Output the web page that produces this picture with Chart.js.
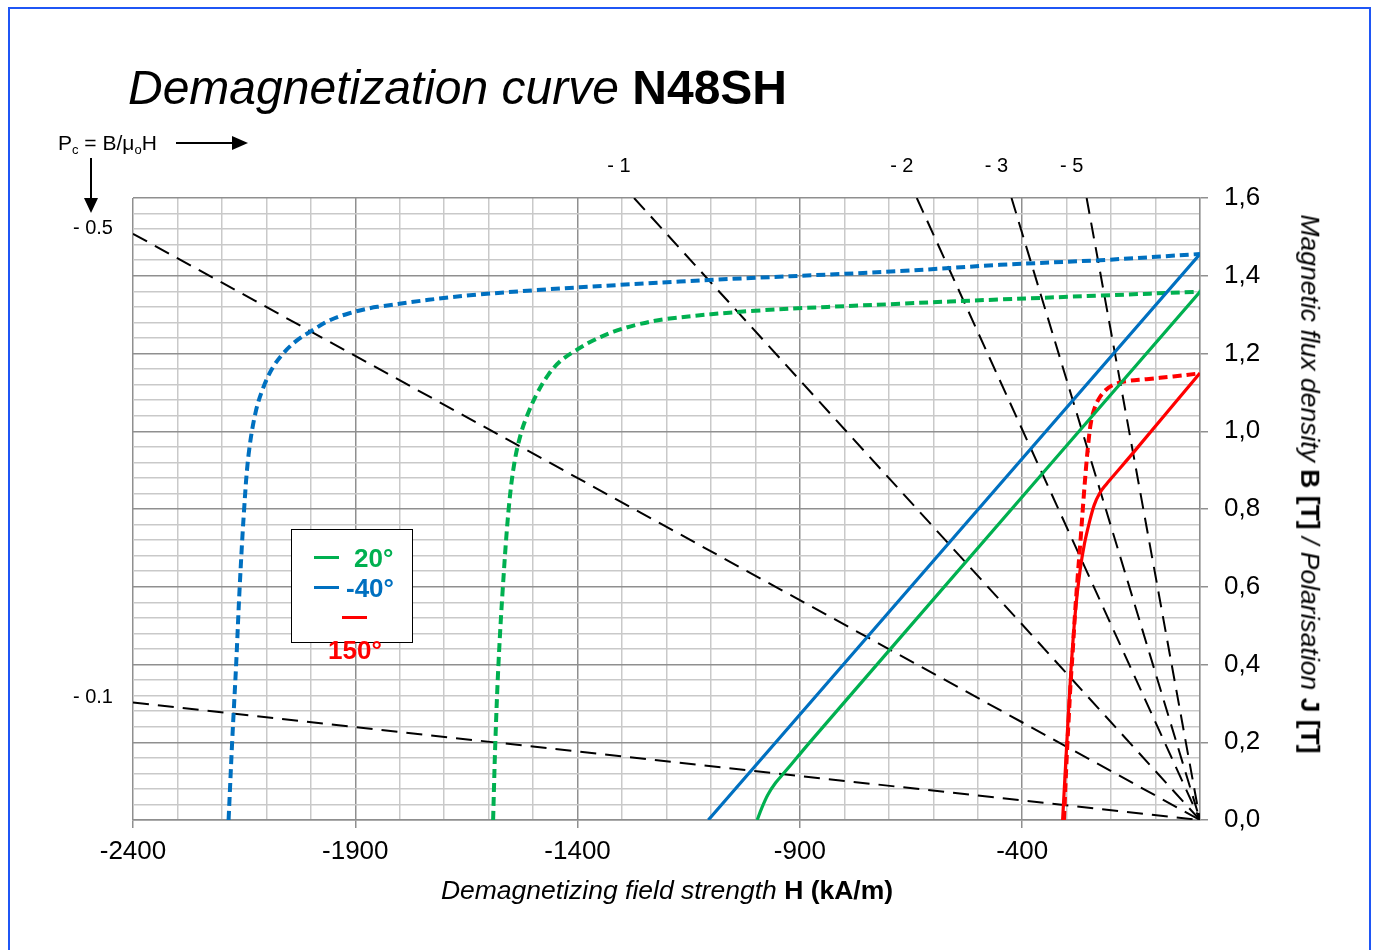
<!DOCTYPE html>
<html lang="en">
<head>
<meta charset="UTF-8">
<title>Demagnetization curve N48SH</title>
<script src="https://cdn.jsdelivr.net/npm/chart.js"></script>
<style>
    body {
        margin: 0;
        width: 1375px;
        height: 950px;
        overflow: hidden;
        background: #fff;
        font-family: "Liberation Sans", Arial, sans-serif;
    }
    #frame {
        position: absolute;
        left: 8px;
        top: 7px;
        width: 1359px;
        height: 980px;
        border: 2px solid #1f56f5;
    }
    #chart { position: absolute; left: 0; top: 0; }
    .txt { position: absolute; white-space: nowrap; color: #000; line-height: 1; }
    #title { left: 128px; top: 64px; font-size: 48px; }
    #xTitle { left: 667px; top: 877px; font-size: 26.5px; transform: translateX(-50%); }
    #yTitle { left: 1310px; top: 484px; font-size: 26.5px; transform: translate(-50%, -50%) rotate(90deg); }
    #pcLabel { left: 58px; top: 132px; font-size: 21px; }
    #pcLabel sub { font-size: 13px; vertical-align: -4px; }
    .pc { position: absolute; font-size: 20px; line-height: 1; white-space: nowrap; }
    #legend {
        position: absolute;
        left: 291px;
        top: 529px;
        width: 120px;
        height: 112px;
        border: 1.5px solid #000;
        background: #fff;
    }
    .lgLine { position: absolute; width: 25px; height: 3px; }
    .lgText { position: absolute; font-size: 26px; font-weight: bold; line-height: 1; }
</style>
</head>
<body>
<div id="frame"></div>
<canvas id="chart" width="1375" height="950"></canvas>

<div id="title" class="txt"><i>Demagnetization curve</i> <b>N48SH</b></div>
<div id="xTitle" class="txt"><i>Demagnetizing field strength</i> <b>H (kA/m)</b></div>
<div id="yTitle" class="txt"><i>Magnetic flux density</i> <b>B [T]</b> <i>/ Polarisation</i> <b>J [T]</b></div>
<div id="pcLabel" class="txt">P<sub>c</sub> = B/&mu;<sub>o</sub>H</div>

<svg width="1375" height="950" style="position:absolute;left:0;top:0;pointer-events:none">
    <line x1="176" y1="143" x2="234" y2="143" stroke="#000" stroke-width="2"/>
    <polygon points="232,136 248,143 232,150" fill="#000"/>
    <line x1="91" y1="158" x2="91" y2="200" stroke="#000" stroke-width="2"/>
    <polygon points="84,198 91,213 98,198" fill="#000"/>
</svg>

<div id="legend"></div>

<script>
// series (legend order)
const seriesNames = ['20°', '-40°', '150°'];
const seriesColors = ['#00B050', '#0070C0', '#FF0000'];

// axis ticks
const xTickLabels = [-2400, -1900, -1400, -900, -400];
const yTickLabels = ['0,0', '0,2', '0,4', '0,6', '0,8', '1,0', '1,2', '1,4', '1,6'];

// flux density B (solid), [H kA/m, B T]
const fluxB20 = [[-996, 0], [-986, 0.03], [-972, 0.065], [-955, 0.095], [-935, 0.122], [-907, 0.16],
    [-873, 0.206], [-700, 0.435], [0, 1.359]];
const fluxBm40 = [[-1106, 0], [0, 1.456]];
const fluxB150 = [[-309, 0], [-300, 0.19], [-290, 0.39], [-280, 0.54], [-270, 0.64], [-260, 0.71],
    [-249, 0.765], [-238, 0.81], [-226, 0.84], [-212, 0.862], [-195, 0.885], [-150, 0.945], [0, 1.15]];

// polarisation J (dashed), [H kA/m, J T]
const polJ20 = [[-1590, 0], [-1585, 0.2], [-1578, 0.4], [-1568, 0.6], [-1555, 0.8], [-1542, 0.92],
    [-1526, 1.0], [-1510, 1.05], [-1490, 1.1], [-1466, 1.145], [-1439, 1.18], [-1404, 1.208],
    [-1364, 1.234], [-1319, 1.256], [-1267, 1.274], [-1199, 1.289], [-1000, 1.31], [-675, 1.328],
    [-450, 1.339], [-225, 1.349], [0, 1.359]];
const polJm40 = [[-2185, 0], [-2177, 0.2], [-2168, 0.4], [-2160, 0.6], [-2150, 0.8], [-2140, 0.94],
    [-2124, 1.05], [-2106, 1.115], [-2085, 1.165], [-2060, 1.203], [-2032, 1.233], [-2000, 1.257],
    [-1960, 1.284], [-1915, 1.303], [-1850, 1.32], [-1620, 1.352], [-1170, 1.385], [-675, 1.412],
    [-450, 1.428], [-225, 1.44], [0, 1.456]];
const polJ150 = [[-306, 0], [-300, 0.156], [-295, 0.268], [-291, 0.353], [-286, 0.439], [-281, 0.533],
    [-275, 0.628], [-268, 0.731], [-262, 0.825], [-256, 0.911], [-251, 0.971], [-245, 1.025],
    [-236, 1.063], [-225, 1.088], [-212, 1.106], [-196, 1.119], [-170, 1.128], [-120, 1.134],
    [-60, 1.141], [0, 1.149]];

// permeance coefficient lines, outer end (other end at origin)
const loadLineNames = ['- 0.5', '- 0.1', '- 1', '- 2', '- 3', '- 5'];
const loadLineEnds = [[-2400, 1.508], [-2400, 0.302], [-1273, 1.6], [-637, 1.6], [-424, 1.6], [-255, 1.6]];

function toPts(arr) {
    return arr.map(p => ({ x: p[0], y: p[1] }));
}

function curve(arr, color, dashed) {
    return {
        data: toPts(arr),
        showLine: true,
        borderColor: color,
        borderWidth: dashed ? 4 : 3.2,
        borderDash: dashed ? [9, 5] : [],
        pointRadius: 0,
        tension: 0.35,
        fill: false
    };
}

const datasets = [
    curve(fluxB20, seriesColors[0], false),
    curve(fluxBm40, seriesColors[1], false),
    curve(fluxB150, seriesColors[2], false),
    curve(polJ20, seriesColors[0], true),
    curve(polJm40, seriesColors[1], true),
    curve(polJ150, seriesColors[2], true)
];
loadLineEnds.forEach(e => {
    datasets.push({
        data: toPts([e, [0, 0]]),
        showLine: true,
        borderColor: '#000',
        borderWidth: 2,
        borderDash: [16, 9],
        pointRadius: 0,
        fill: false
    });
});

const darkGrid = '#8f8f8f';
const lightGrid = '#c9c9c9';
const isMajorY = v => Math.abs(v / 0.2 - Math.round(v / 0.2)) < 1e-6;

const chart = new Chart(document.getElementById('chart').getContext('2d'), {
    type: 'scatter',
    data: { datasets: datasets },
    options: {
        responsive: false,
        animation: false,
        layout: { padding: { left: 133, top: 198, right: 85, bottom: 80 } },
        plugins: { legend: { display: false }, tooltip: { enabled: false } },
        scales: {
            x: {
                type: 'linear',
                min: -2400,
                max: 0,
                afterFit: s => { s.height = 50; },
                border: { display: true, color: darkGrid, width: 1.5 },
                grid: {
                    color: c => xTickLabels.includes(c.tick.value) ? darkGrid : lightGrid,
                    lineWidth: 1.5,
                    tickLength: 8,
                    tickColor: c => xTickLabels.includes(c.tick.value) ? darkGrid : 'rgba(0,0,0,0)'
                },
                ticks: {
                    stepSize: 100,
                    autoSkip: false,
                    maxRotation: 0,
                    padding: 8,
                    color: '#000',
                    font: { family: '"Liberation Sans", Arial, sans-serif', size: 26 },
                    callback: v => xTickLabels.includes(v) ? String(v) : ''
                }
            },
            y: {
                type: 'linear',
                position: 'right',
                min: 0,
                max: 1.6,
                afterFit: s => { s.width = 90; },
                border: { display: true, color: darkGrid, width: 1.5 },
                grid: {
                    color: c => isMajorY(c.tick.value) ? darkGrid : lightGrid,
                    lineWidth: 1.5,
                    tickLength: 8,
                    tickColor: c => isMajorY(c.tick.value) ? darkGrid : 'rgba(0,0,0,0)'
                },
                ticks: {
                    stepSize: 0.04,
                    autoSkip: false,
                    padding: 16,
                    color: '#000',
                    font: { family: '"Liberation Sans", Arial, sans-serif', size: 26 },
                    callback: v => isMajorY(v) ? yTickLabels[Math.round(v / 0.2)] : ''
                }
            }
        }
    }
});

// permeance labels next to their lines
const xs = chart.scales.x, ys = chart.scales.y;
loadLineEnds.forEach((e, i) => {
    const el = document.createElement('div');
    el.className = 'pc';
    el.textContent = loadLineNames[i];
    if (e[1] >= 1.6) {
        el.style.left = (xs.getPixelForValue(e[0]) - 15) + 'px';
        el.style.top = '165px';
        el.style.transform = 'translate(-50%, -50%)';
    } else {
        el.style.left = '113px';
        el.style.top = (ys.getPixelForValue(e[1]) - 7) + 'px';
        el.style.transform = 'translate(-100%, -50%)';
    }
    document.body.appendChild(el);
});

// legend box
const legend = document.getElementById('legend');
const lgLines = [[22, 26], [22, 56], [50, 86]];
const lgTexts = [[62, 15], [54, 45], [36, 107]];
seriesNames.forEach((name, i) => {
    const ln = document.createElement('div');
    ln.className = 'lgLine';
    ln.style.background = seriesColors[i];
    ln.style.left = lgLines[i][0] + 'px';
    ln.style.top = lgLines[i][1] + 'px';
    legend.appendChild(ln);
    const tx = document.createElement('div');
    tx.className = 'lgText';
    tx.style.color = seriesColors[i];
    tx.style.left = lgTexts[i][0] + 'px';
    tx.style.top = lgTexts[i][1] + 'px';
    tx.textContent = name;
    legend.appendChild(tx);
});
</script>
</body>
</html>
